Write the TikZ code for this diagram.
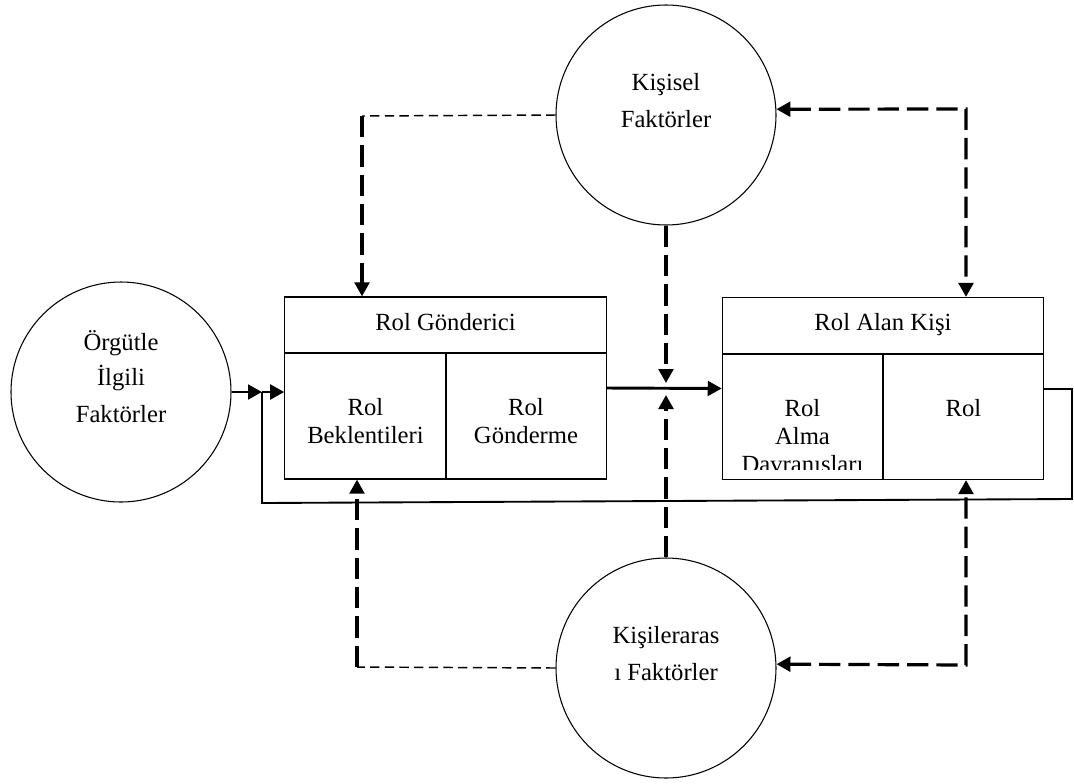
\documentclass[tikz,border=0pt]{standalone}
\usepackage{fontspec}
\setmainfont{Liberation Serif}
\usetikzlibrary{arrows.meta}
\begin{document}
\begin{tikzpicture}[x=0.75pt,y=-0.75pt,
  txt/.style={font=\fontsize{18.5}{22}\selectfont, inner sep=0pt, anchor=base},
  factor/.style={draw, circle, line width=0.8pt, minimum size=165pt, inner sep=0pt},
  rolebox/.style={draw, line width=0.9pt, minimum width=241pt, minimum height=136.5pt, inner sep=0pt},
  cellline/.style={line width=0.9pt},
  tip/.style={-{Triangle[length=10.5pt,width=11pt]}},
  bothtips/.style={{Triangle[length=10.5pt,width=11pt]}-{Triangle[length=10.5pt,width=11pt]}},
  solidarrow/.style={tip, line width=2.2pt},
  fbline/.style={line width=1.4pt},
  thickdash/.style={line width=2.4pt, dash pattern=on 16pt off 6pt},
  thindash/.style={line width=1.1pt, dash pattern=on 7pt off 4pt}
]
\useasboundingbox (0,0) rectangle (1074,783);

% factor circles
\node[factor] (org) at (121,392) {};
\node[txt] at (121,350) {Örgütle};
\node[txt] at (121,385) {İlgili};
\node[txt] at (121,422) {Faktörler};

\node[factor] (kis) at (666,115) {};
\node[txt] at (666,90) {Kişisel};
\node[txt] at (666,127) {Faktörler};

\node[factor] (kar) at (666,668) {};
\node[txt] at (666,643) {Kişileraras};
\node[txt] at (666,680) {ı Faktörler};

% role sender box
\node[rolebox] (lbox) at (445.5,388) {};
\draw[cellline] (285,353) -- (606,353);
\draw[cellline] (446,353) -- (446,479);
\node[txt] at (445.5,330) {Rol Gönderici};
\node[txt] at (365.5,415) {Rol};
\node[txt] at (365.5,443) {Beklentileri};
\node[txt] at (526,415) {Rol};
\node[txt] at (526,443) {Gönderme};

% role receiver box
\node[rolebox] (rbox) at (883,388.5) {};
\draw[cellline] (722,354) -- (1044,354);
\draw[cellline] (883,354) -- (883,479);
\node[txt] at (883,330) {Rol Alan Kişi};
\begin{scope}
  \clip (722,354) rectangle (883,469);
  \node[txt] at (802.5,416) {Rol};
  \node[txt] at (802.5,444) {Alma};
  \node[txt] at (802.5,472) {Davranışları};
\end{scope}
\node[txt] at (963.5,416) {Rol};

% junction points of the connectors
\coordinate (fbJ) at (262,392);
\coordinate (fbA) at (1044,389);
\coordinate (cT) at (666,383);
\coordinate (cB) at (666,395);
\coordinate (tl) at (362,116);
\coordinate (tr) at (966,109);
\coordinate (bl) at (357,667);
\coordinate (br) at (966,665);

% feedback loop and solid flow
\draw[fbline] (fbA) -- (1072,389) -- (1072,499) -- (262,503) -- (fbJ);
\draw[solidarrow] (org) -- (fbJ);
\draw[solidarrow] (fbJ) -- (lbox.west |- fbJ);
\draw[solidarrow] (lbox.east) -- (rbox.west);

% influences of personal factors
\draw[thindash] (kis.west) -- (tl);
\draw[thickdash, tip] (tl) -- (tl |- lbox.north);
\draw[thickdash, tip] (kis.south) -- (cT);
\draw[thickdash, bothtips] (kis.3) -- (tr) -- (tr |- rbox.north);

% influences of interpersonal factors
\draw[thindash] (kar.west) -- (bl);
\draw[thickdash, tip] (bl) -- (bl |- lbox.south);
\draw[thickdash, tip] (kar.north) -- (cB);
\draw[thickdash, bothtips] (kar.2) -- (br) -- (br |- rbox.south);
\end{tikzpicture}
\end{document}
